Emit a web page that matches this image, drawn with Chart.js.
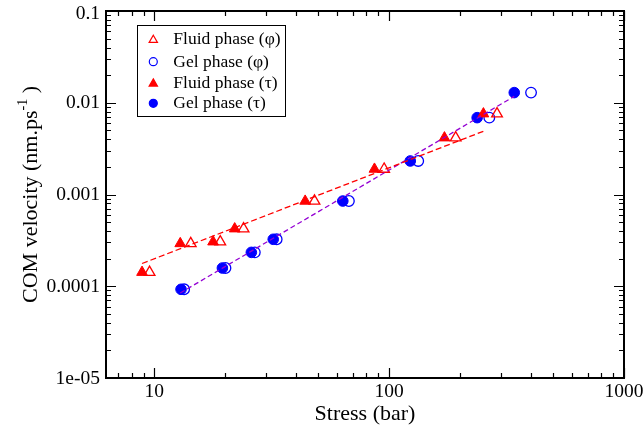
<!DOCTYPE html>
<html>
<head>
<meta charset="utf-8">
<script src="https://cdn.jsdelivr.net/npm/chart.js@4.4.1/dist/chart.umd.min.js"></script>
<style>
    html, body { margin: 0; padding: 0; background: #fff; }
    #box { width: 643px; height: 427px; position: relative; }
</style>
</head>
<body>
<div id="box"><canvas id="comChart"></canvas></div>
<script>
// stress (bar) and COM velocity (nm/ps)
var fluidPhiX = [9.55, 14.3, 19.1, 24.0, 48.1, 95.2, 192, 288];
var fluidTauX = [8.87, 12.9, 17.8, 22.0, 43.9, 86.6, 172, 252];
var fluidY = [1.42e-4, 2.92e-4, 3.05e-4, 4.23e-4, 8.47e-4, 1.89e-3, 4.15e-3, 7.58e-3];

var gelPhiX = [13.4, 20.1, 26.8, 33.2, 67.4, 133, 267, 402];
var gelTauX = [13.0, 19.5, 25.9, 32.1, 63.5, 123, 237, 341];
var gelY = [9.26e-5, 1.58e-4, 2.34e-4, 3.25e-4, 8.49e-4, 2.32e-3, 6.88e-3, 0.0129];

// power-law fits (dashed)
var fluidFitX = [8.87, 252];
var fluidFitY = [1.77e-4, 4.89e-3];
var gelFitX = [12.9, 341];
var gelFitY = [8.44e-5, 0.01175];

var xTickValues = [10, 100, 1000];
var xTickLabels = ['10', '100', '1000'];
var yTickValues = [0.1, 0.01, 0.001, 0.0001, 0.00001];
var yTickLabels = ['0.1', '0.01', '0.001', '0.0001', '1e-05'];

function pts(xs, ys) {
    return xs.map(function (x, i) { return { x: x, y: ys[i] }; });
}

var RED = 'rgb(255, 0, 0)';
var BLUE = 'rgb(0, 0, 255)';
var VIOLET = 'rgb(148, 0, 211)';
var SERIF = '"Liberation Serif", "DejaVu Serif", serif';

function minorTicks(lo, hi) {
    var out = [];
    for (var d = Math.pow(10, Math.floor(Math.log10(lo))); d < hi; d *= 10) {
        for (var m = 1; m < 10; m++) {
            var v = m * d;
            if (v >= lo * 0.999 && v <= hi * 1.001 && m !== 1) out.push(v);
        }
    }
    return out;
}

function marker(ctx, style, x, y, r, filled, color) {
    ctx.beginPath();
    if (style === 'triangle') {
        ctx.moveTo(x, y - r);
        ctx.lineTo(x + r * 0.866, y + r * 0.5);
        ctx.lineTo(x - r * 0.866, y + r * 0.5);
        ctx.closePath();
    } else {
        ctx.arc(x, y, r, 0, Math.PI * 2);
    }
    ctx.lineWidth = 1.2;
    ctx.strokeStyle = color;
    if (filled) {
        ctx.fillStyle = color;
        ctx.fill();
    }
    ctx.stroke();
}

var legendRows = [
    { text: 'Fluid phase (φ)', style: 'triangle', filled: false, color: RED },
    { text: 'Gel phase (φ)', style: 'circle', filled: false, color: BLUE },
    { text: 'Fluid phase (τ)', style: 'triangle', filled: true, color: RED },
    { text: 'Gel phase (τ)', style: 'circle', filled: true, color: BLUE }
];

var framePlugin = {
    id: 'frame',
    afterDraw: function (chart) {
        var ctx = chart.ctx;
        var a = chart.chartArea;
        var xs = chart.scales.x, ys = chart.scales.y;
        ctx.save();

        // axis frame
        ctx.strokeStyle = '#000';
        ctx.lineWidth = 2;
        ctx.strokeRect(a.left, a.top, a.right - a.left, a.bottom - a.top);

        // inward ticks on all four sides
        ctx.lineWidth = 1.2;
        ctx.beginPath();
        xTickValues.forEach(function (v) {
            var p = Math.round(xs.getPixelForValue(v)) + 0.5;
            ctx.moveTo(p, a.bottom); ctx.lineTo(p, a.bottom - 10);
            ctx.moveTo(p, a.top); ctx.lineTo(p, a.top + 10);
        });
        minorTicks(xs.min, xs.max).forEach(function (v) {
            var p = Math.round(xs.getPixelForValue(v)) + 0.5;
            ctx.moveTo(p, a.bottom); ctx.lineTo(p, a.bottom - 5);
            ctx.moveTo(p, a.top); ctx.lineTo(p, a.top + 5);
        });
        yTickValues.forEach(function (v) {
            var p = Math.round(ys.getPixelForValue(v)) + 0.5;
            ctx.moveTo(a.left, p); ctx.lineTo(a.left + 10, p);
            ctx.moveTo(a.right, p); ctx.lineTo(a.right - 10, p);
        });
        minorTicks(ys.min, ys.max).forEach(function (v) {
            var p = Math.round(ys.getPixelForValue(v)) + 0.5;
            ctx.moveTo(a.left, p); ctx.lineTo(a.left + 5, p);
            ctx.moveTo(a.right, p); ctx.lineTo(a.right - 5, p);
        });
        ctx.stroke();

        // tick labels
        ctx.fillStyle = '#000';
        ctx.font = '19.5px ' + SERIF;
        ctx.textAlign = 'center';
        ctx.textBaseline = 'alphabetic';
        xTickValues.forEach(function (v, i) {
            ctx.fillText(xTickLabels[i], xs.getPixelForValue(v), a.bottom + 19);
        });
        ctx.textAlign = 'right';
        ctx.textBaseline = 'middle';
        yTickValues.forEach(function (v, i) {
            var p = ys.getPixelForValue(v);
            if (i === 0) p += 2;
            ctx.fillText(yTickLabels[i], a.left - 6, p + 0.5);
        });

        // axis titles
        ctx.font = '22px ' + SERIF;
        ctx.textAlign = 'center';
        ctx.textBaseline = 'alphabetic';
        ctx.fillText('Stress (bar)', (a.left + a.right) / 2, 419.5);

        var mainText = 'COM velocity (nm.ps';
        var supText = '-1';
        var endText = ' )';
        ctx.font = '22px ' + SERIF;
        var w1 = ctx.measureText(mainText).width;
        var w3 = ctx.measureText(endText).width;
        ctx.font = '14px ' + SERIF;
        var w2 = ctx.measureText(supText).width;
        var total = w1 + w2 + w3;
        ctx.translate(36.5, (a.top + a.bottom) / 2);
        ctx.rotate(-Math.PI / 2);
        ctx.textAlign = 'left';
        ctx.font = '22px ' + SERIF;
        ctx.fillText(mainText, -total / 2, 0);
        ctx.font = '14px ' + SERIF;
        ctx.fillText(supText, -total / 2 + w1, -10);
        ctx.font = '22px ' + SERIF;
        ctx.fillText(endText, -total / 2 + w1 + w2, 0);
        ctx.setTransform(1, 0, 0, 1, 0, 0);
        ctx.scale(chart.currentDevicePixelRatio, chart.currentDevicePixelRatio);

        // legend box
        ctx.lineWidth = 1;
        ctx.strokeStyle = '#000';
        ctx.fillStyle = '#fff';
        ctx.fillRect(137.5, 25.5, 148, 91);
        ctx.strokeRect(137.5, 25.5, 148, 91);
        var rowY = [39, 61.7, 82.7, 103.3];
        ctx.font = '17.5px ' + SERIF;
        ctx.textAlign = 'left';
        ctx.textBaseline = 'middle';
        legendRows.forEach(function (row, i) {
            var r = row.style === 'triangle' ? 4.8 : 4;
            var yy = row.style === 'triangle' ? rowY[i] + 1 : rowY[i];
            marker(ctx, row.style, 153.3, yy, r, row.filled, row.color);
            ctx.fillStyle = '#000';
            ctx.fillText(row.text, 173.3, rowY[i] + 0.5);
        });
        ctx.restore();
    }
};

new Chart('comChart', {
    type: 'scatter',
    data: {
        datasets: [{
            label: 'Fluid phase (φ)',
            data: pts(fluidPhiX, fluidY),
            pointStyle: 'triangle',
            pointRadius: 6.2,
            borderColor: RED,
            backgroundColor: 'rgba(0, 0, 0, 0)',
            borderWidth: 1.3,
            order: 3
        }, {
            label: 'Gel phase (φ)',
            data: pts(gelPhiX, gelY),
            pointStyle: 'circle',
            pointRadius: 5.3,
            borderColor: BLUE,
            backgroundColor: 'rgba(0, 0, 0, 0)',
            borderWidth: 1.3,
            order: 3
        }, {
            label: 'Fluid phase (τ)',
            data: pts(fluidTauX, fluidY),
            pointStyle: 'triangle',
            pointRadius: 6.2,
            borderColor: RED,
            backgroundColor: RED,
            borderWidth: 1,
            order: 2
        }, {
            label: 'Gel phase (τ)',
            data: pts(gelTauX, gelY),
            pointStyle: 'circle',
            pointRadius: 5.3,
            borderColor: BLUE,
            backgroundColor: BLUE,
            borderWidth: 1,
            order: 2
        }, {
            label: 'fluid fit',
            data: pts(fluidFitX, fluidFitY),
            showLine: true,
            pointRadius: 0,
            borderColor: RED,
            borderWidth: 1.3,
            borderDash: [6, 3],
            order: 1
        }, {
            label: 'gel fit',
            data: pts(gelFitX, gelFitY),
            showLine: true,
            pointRadius: 0,
            borderColor: VIOLET,
            borderWidth: 1.3,
            borderDash: [5, 3],
            order: 1
        }]
    },
    options: {
        responsive: true,
        maintainAspectRatio: false,
        animation: false,
        layout: {
            padding: { top: 11, right: 19, left: 0, bottom: 0 }
        },
        plugins: {
            legend: { display: false },
            tooltip: { enabled: false }
        },
        scales: {
            x: {
                type: 'logarithmic',
                min: 6.23,
                max: 1000,
                grid: { display: false },
                border: { display: false },
                ticks: { display: false },
                afterFit: function (s) { s.height = 49; }
            },
            y: {
                type: 'logarithmic',
                min: 0.00001,
                max: 0.1,
                grid: { display: false },
                border: { display: false },
                ticks: { display: false },
                afterFit: function (s) { s.width = 106; }
            }
        }
    },
    plugins: [framePlugin]
});
</script>
</body>
</html>
